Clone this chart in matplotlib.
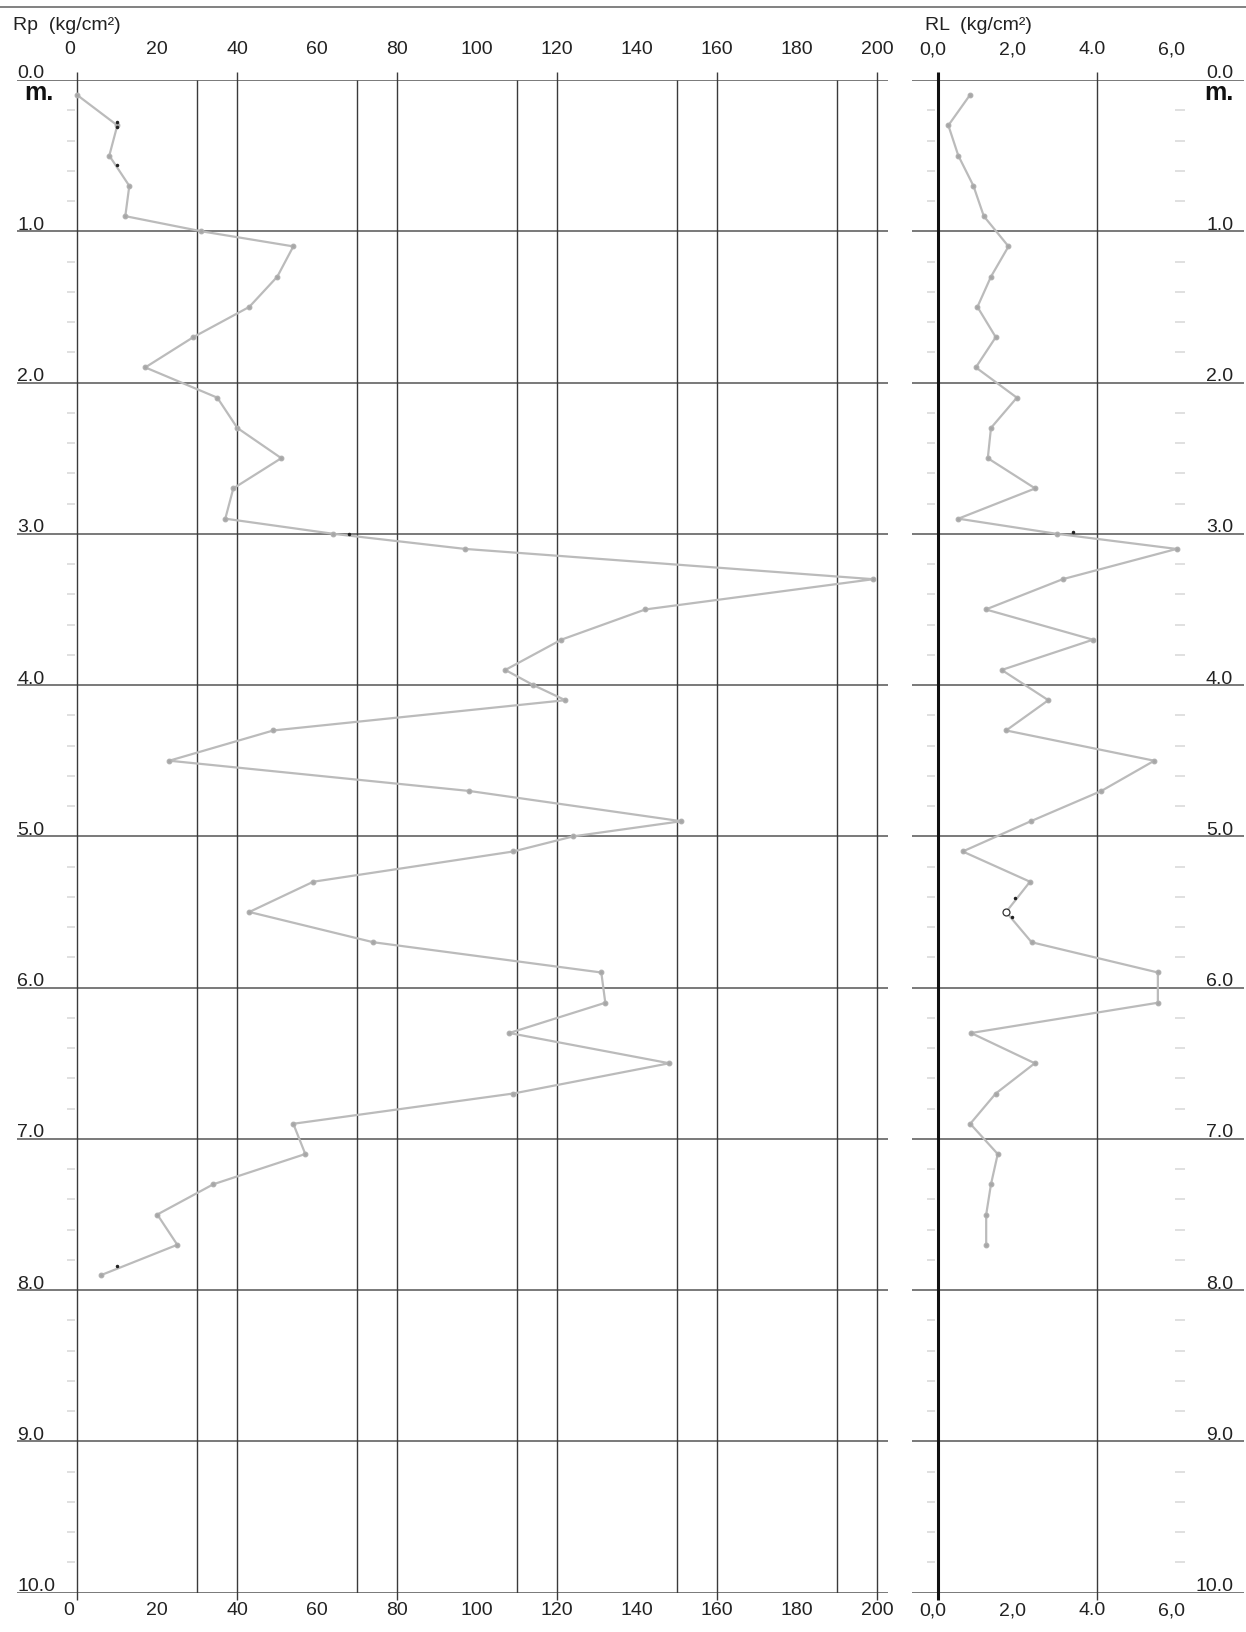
import matplotlib
matplotlib.use('Agg')
import matplotlib.pyplot as plt
from matplotlib.lines import Line2D
import numpy as np

plt.rcParams['font.family'] = ['Liberation Sans', 'DejaVu Sans']

# Penetrometer readings (depth in m)
rp_depth = [0.1, 0.3, 0.5, 0.7, 0.9, 1.0, 1.1, 1.3, 1.5, 1.7, 1.9, 2.1, 2.3, 2.5, 2.7, 2.9,
            3.0, 3.1, 3.3, 3.5, 3.7, 3.9, 4.0, 4.1, 4.3, 4.5, 4.7, 4.9, 5.0, 5.1, 5.3, 5.5,
            5.7, 5.9, 6.1, 6.3, 6.5, 6.7, 6.9, 7.1, 7.3, 7.5, 7.7, 7.9]
rp_value = [0, 10, 8, 13, 12, 31, 54, 50, 43, 29, 17, 35, 40, 51, 39, 37,
            64, 97, 199, 142, 121, 107, 114, 122, 49, 23, 98, 151, 124, 109, 59, 43,
            74, 131, 132, 108, 148, 109, 54, 57, 34, 20, 25, 6]

rl_depth = [0.1, 0.3, 0.5, 0.7, 0.9, 1.1, 1.3, 1.5, 1.7, 1.9, 2.1, 2.3, 2.5, 2.7, 2.9, 3.0,
            3.1, 3.3, 3.5, 3.7, 3.9, 4.1, 4.3, 4.5, 4.7, 4.9, 5.1, 5.3, 5.5, 5.7, 5.9,
            6.1, 6.3, 6.5, 6.7, 6.9, 7.1, 7.3, 7.5, 7.7]
rl_value = [0.8, 0.26, 0.51, 0.89, 1.15, 1.77, 1.33, 0.99, 1.45, 0.95, 1.98, 1.33, 1.25, 2.44, 0.51, 2.98,
            5.99, 3.13, 1.2, 3.89, 1.6, 2.77, 1.71, 5.43, 4.1, 2.33, 0.62, 2.31, 1.71, 2.35, 5.52,
            5.52, 0.83, 2.43, 1.45, 0.81, 1.5, 1.33, 1.21, 1.21]

# stray dark dots on the scan
rp_dot_x = [10, 10, 10, 68, 10]
rp_dot_y = [0.28, 0.31, 0.56, 3.0, 7.84]
rl_dot_x = [3.38, 1.93, 1.85]
rl_dot_y = [2.99, 5.41, 5.53]

rp_ticks = [0, 20, 40, 60, 80, 100, 120, 140, 160, 180, 200]
rp_labels = ['0', '20', '40', '60', '80', '100', '120', '140', '160', '180', '200']
rl_ticks = [0, 2, 4, 6]
rl_labels = ['0,0', '2,0', '4.0', '6,0']
depth_labels = ['0.0', '1.0', '2.0', '3.0', '4.0', '5.0', '6.0', '7.0', '8.0', '9.0', '10.0']

W, H = 1246, 1632
fig = plt.figure(figsize=(W / 100, H / 100), dpi=100, facecolor='white')

y_top, y_bot = 80, 1592.7
def box(x0, x1):
    return [x0 / W, 1 - y_bot / H, (x1 - x0) / W, (y_bot - y_top) / H]

ax1 = fig.add_axes(box(17, 888))
ax2 = fig.add_axes(box(912, 1244))
ax1.set_xlim((17 - 77.3) / 4.0, (888 - 77.3) / 4.0)
ax2.set_xlim((912 - 938) / 39.83, (1244 - 938) / 39.83)

grid_col = '#3a3a3a'
for ax in (ax1, ax2):
    ax.set_ylim(10, 0)
    ax.axis('off')
    for d in range(11):
        ax.axhline(d, color='#555555', lw=1.1, zorder=1)
    # faint tick dashes every 0.2 m
    minor = [d + f for d in range(10) for f in (0.2, 0.4, 0.6, 0.8)]
    if ax is ax1:
        ax.hlines(minor, -2.6, -0.6, color='#e0e0e0', lw=1.4, zorder=0)
    else:
        ax.hlines(minor, -0.28, -0.08, color='#e0e0e0', lw=1.4, zorder=0)
        ax.hlines(minor, 5.95, 6.2, color='#e0e0e0', lw=1.4, zorder=0)

# Rp panel grid
ax1.vlines(rp_ticks[::2], -0.055, 10.05, color=grid_col, lw=1.0, clip_on=False, zorder=1)
ax1.vlines([30, 70, 110, 150, 190], 0, 10, color=grid_col, lw=1.0, zorder=1)
# RL panel grid
ax2.vlines([0], -0.055, 10.05, color='#111111', lw=2.2, clip_on=False, zorder=1)
ax2.vlines([4], -0.055, 10.05, color=grid_col, lw=1.0, clip_on=False, zorder=1)

# data
ax1.plot(rp_value, rp_depth, color='#bbbbbb', lw=1.6, marker='o', ms=3.2,
         mfc='#a6a6a6', mec='#b0b0b0', zorder=3, clip_on=False)
ax1.plot(rp_dot_x, rp_dot_y, ls='none', marker='o', ms=1.5, color='#222222', zorder=4)
ax2.plot(rl_value, rl_depth, color='#bbbbbb', lw=1.6, marker='o', ms=3.2,
         mfc='#a6a6a6', mec='#b0b0b0', zorder=3)
ax2.plot([rl_value[rl_depth.index(5.5)]], [5.5], ls='none', marker='o', ms=5,
         mfc='white', mec='#333333', mew=0.9, zorder=4)
ax2.plot(rl_dot_x, rl_dot_y, ls='none', marker='o', ms=1.5, color='#222222', zorder=4)

fs = 14
# tick labels top and bottom
for v, s in zip(rp_ticks, rp_labels):
    ax1.text(v - (1.8 if v == 0 else 0), -0.2, s, ha='center', va='center', fontsize=fs, color='#222222')
    ax1.text(v - (2.2 if v == 0 else 0), 10.12, s, ha='center', va='center', fontsize=fs, color='#222222')
for v, s in zip(rl_ticks, rl_labels):
    ax2.text(v - 0.13, -0.2, s, ha='center', va='center', fontsize=fs, color='#222222')
    ax2.text(v - 0.13, 10.12, s, ha='center', va='center', fontsize=fs, color='#222222')

# depth labels
for d, s in enumerate(depth_labels):
    ax1.text(ax1.get_xlim()[0], d - 0.01, s, ha='left', va='baseline', fontsize=fs, color='#222222')
    ax2.text(7.41, d - 0.01, s, ha='right', va='baseline', fontsize=fs, color='#222222')
ax1.text(-13.2, 0.135, 'm.', ha='left', va='baseline', fontsize=18, fontweight='bold', color='#111111')
ax2.text(7.43, 0.135, 'm.', ha='right', va='baseline', fontsize=18, fontweight='bold', color='#111111')

# headers
fig.text(13 / W, 1 - 30 / H, 'Rp  (kg/cm²)', ha='left', va='baseline', fontsize=fs, color='#222222')
fig.text(925 / W, 1 - 30 / H, 'RL  (kg/cm²)', ha='left', va='baseline', fontsize=fs, color='#222222')
fig.add_artist(Line2D([0, 1], [1 - 7 / H, 1 - 7 / H], color='#777777', lw=1.3))

fig.savefig('out.png', dpi=100, facecolor='white')
